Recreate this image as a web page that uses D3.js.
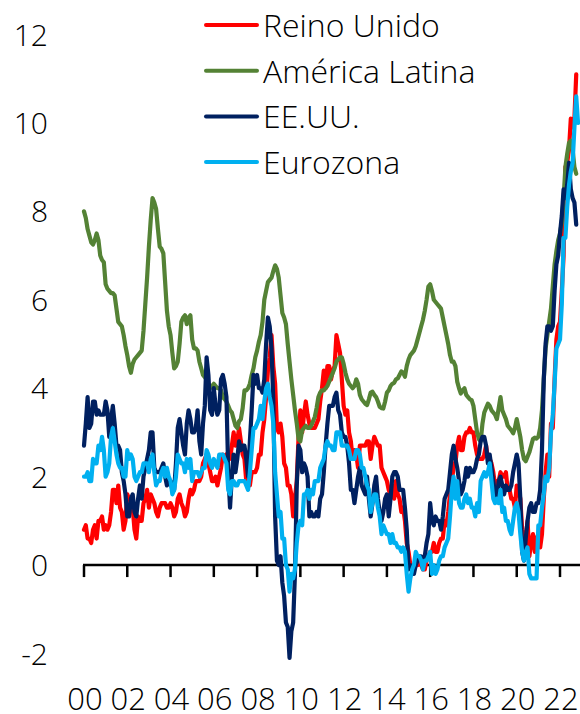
<!DOCTYPE html>
<html>
<head>
<meta charset="utf-8">
<script src="https://cdn.jsdelivr.net/npm/d3@7"></script>
<style>
  body { margin: 0; background: #fff; }
  text { font-family: "Open Sans", sans-serif; font-weight: 300; fill: #000; }
</style>
</head>
<body>
<div id="chart"></div>
<script>
// monthly values, Jan 2000 onwards (% y/y)
var reinoUnido = [
  0.8, 0.9, 0.6, 0.6, 0.5, 0.8, 0.9, 0.6, 1.0, 1.0, 1.1, 0.8,
  0.9, 0.8, 0.9, 1.2, 1.7, 1.7, 1.4, 1.8, 1.3, 1.2, 0.8, 1.0,
  1.6, 1.5, 1.5, 1.3, 0.8, 0.6, 1.1, 1.0, 1.0, 1.4, 1.5, 1.7,
  1.3, 1.6, 1.5, 1.4, 1.2, 1.1, 1.3, 1.4, 1.4, 1.4, 1.3, 1.3,
  1.4, 1.3, 1.1, 1.2, 1.5, 1.6, 1.4, 1.3, 1.1, 1.2, 1.5, 1.7,
  1.6, 1.7, 1.9, 1.9, 1.9, 2.0, 2.3, 2.4, 2.5, 2.3, 2.1, 1.9,
  1.9, 2.0, 1.8, 2.0, 2.2, 2.5, 2.4, 2.5, 2.4, 2.4, 2.7, 3.0,
  2.7, 2.8, 3.1, 2.8, 2.5, 2.4, 1.9, 1.8, 1.8, 2.1, 2.1, 2.1,
  2.2, 2.5, 2.5, 3.0, 3.3, 3.8, 4.4, 4.7, 5.2, 4.5, 4.1, 3.1,
  3.0, 3.2, 2.9, 2.3, 2.2, 1.8, 1.8, 1.6, 1.1, 1.5, 1.9, 2.9,
  3.5, 3.0, 3.4, 3.7, 3.4, 3.2, 3.1, 3.1, 3.1, 3.2, 3.3, 3.7,
  4.0, 4.4, 4.0, 4.5, 4.5, 4.2, 4.4, 4.5, 5.2, 5.0, 4.8, 4.2,
  3.6, 3.4, 3.5, 3.0, 2.8, 2.4, 2.6, 2.5, 2.2, 2.7, 2.7, 2.7,
  2.7, 2.8, 2.8, 2.4, 2.7, 2.9, 2.8, 2.7, 2.7, 2.2, 2.1, 2.0,
  1.9, 1.7, 1.6, 1.8, 1.5, 1.9, 1.6, 1.5, 1.2, 1.3, 1.0, 0.5,
  0.3, 0.0, 0.0, -0.1, 0.1, 0.0, 0.1, 0.0, -0.1, -0.1, 0.1, 0.2,
  0.3, 0.3, 0.5, 0.3, 0.3, 0.5, 0.6, 0.6, 1.0, 0.9, 1.2, 1.6,
  1.8, 2.3, 2.3, 2.7, 2.9, 2.6, 2.6, 2.9, 3.0, 3.0, 3.1, 3.0,
  3.0, 2.7, 2.5, 2.4, 2.4, 2.4, 2.5, 2.7, 2.4, 2.4, 2.3, 2.1,
  1.8, 1.9, 1.9, 2.1, 2.0, 2.0, 2.1, 1.7, 1.7, 1.5, 1.5, 1.3,
  1.8, 1.7, 1.5, 0.8, 0.5, 0.6, 1.0, 0.2, 0.5, 0.7, 0.3, 0.6,
  0.7, 0.4, 0.7, 1.5, 2.1, 2.5, 2.0, 3.2, 3.1, 4.2, 5.1, 5.4,
  5.5, 6.2, 7.0, 9.0, 9.1, 9.4, 10.1, 9.9, 10.1, 11.1
];

var americaLatina = [
  8.0, 7.85, 7.6, 7.45, 7.3, 7.25, 7.35, 7.5, 7.35, 7.0, 6.9, 6.85,
  6.35, 6.25, 6.2, 6.15, 6.15, 6.1, 5.8, 5.5, 5.45, 5.4, 5.2, 4.95,
  4.75, 4.5, 4.35, 4.55, 4.65, 4.7, 4.75, 4.8, 4.85, 5.3, 5.9, 6.5,
  7.2, 7.8, 8.3, 8.2, 8.05, 7.6, 7.2, 7.15, 7.05, 6.4, 5.75, 5.4,
  5.2, 4.8, 4.45, 4.5, 4.6, 5.0, 5.5, 5.6, 5.65, 5.45, 5.6, 5.65,
  5.1, 4.9, 4.9, 4.85, 4.6, 4.45, 4.3, 4.25, 4.2, 4.1, 4.0, 4.05,
  4.1, 4.05, 4.0, 4.0, 3.95, 3.8, 3.75, 3.7, 3.6, 3.5, 3.45, 3.3,
  3.15, 3.1, 3.25, 3.3, 3.55, 3.95, 3.95, 4.0, 4.1, 4.3, 4.45, 4.7,
  4.85, 5.05, 5.2, 5.5, 6.0, 6.2, 6.4, 6.45, 6.5, 6.65, 6.78, 6.7,
  6.5, 6.1, 5.7, 5.6, 5.45, 5.0, 4.6, 4.2, 3.85, 3.5, 3.2, 2.85,
  2.8, 3.05, 3.1, 3.15, 3.1, 3.1, 3.15, 3.25, 3.35, 3.55, 3.8, 3.9,
  3.95, 3.95, 4.0, 4.05, 4.15, 4.25, 4.35, 4.45, 4.6, 4.65, 4.7, 4.7,
  4.55, 4.35, 4.2, 4.1, 4.05, 4.0, 4.05, 4.2, 4.1, 3.85, 3.75, 3.7,
  3.65, 3.62, 3.75, 3.9, 3.92, 3.85, 3.8, 3.7, 3.58, 3.55, 3.54, 3.7,
  3.9, 3.95, 4.05, 4.1, 4.12, 4.2, 4.22, 4.3, 4.38, 4.35, 4.26, 4.5,
  4.65, 4.75, 4.8, 4.85, 4.95, 5.1, 5.25, 5.4, 5.55, 5.75, 6.0, 6.3,
  6.35, 6.2, 6.0, 5.95, 5.9, 5.85, 5.8, 5.6, 5.4, 5.2, 5.0, 4.75,
  4.6, 4.6, 4.5, 4.15, 4.0, 3.88, 3.95, 4.0, 3.85, 3.8, 3.75, 3.73,
  3.6, 3.3, 3.0, 2.85, 2.8, 3.2, 3.45, 3.55, 3.65, 3.6, 3.5, 3.45,
  3.4, 3.3, 3.55, 3.8, 3.5, 3.4, 3.3, 3.15, 3.1, 3.05, 2.98, 3.1,
  3.3, 3.1, 2.9, 2.6, 2.4, 2.35, 2.45, 2.55, 2.7, 2.85, 2.88, 2.86,
  2.9, 3.1, 3.5, 4.2, 4.9, 5.2, 5.5, 5.8, 6.3, 6.8, 7.1, 7.35,
  7.5, 7.75, 8.3, 9.0, 9.3, 9.55, 9.6, 9.4, 9.0, 8.85
];

var eeuu = [
  2.7, 3.2, 3.8, 3.1, 3.2, 3.7, 3.7, 3.4, 3.5, 3.4, 3.4, 3.4,
  3.7, 3.5, 2.9, 3.3, 3.6, 3.2, 2.7, 2.7, 2.6, 2.1, 1.9, 1.6,
  1.1, 1.1, 1.5, 1.6, 1.2, 1.1, 1.5, 1.8, 1.5, 2.0, 2.2, 2.4,
  2.6, 3.0, 3.0, 2.2, 2.1, 2.1, 2.1, 2.2, 2.3, 2.0, 1.8, 1.9,
  1.9, 1.7, 1.7, 2.3, 3.1, 3.3, 3.0, 2.7, 2.5, 3.2, 3.5, 3.3,
  3.0, 3.0, 3.1, 3.5, 2.8, 2.5, 3.2, 3.6, 4.7, 4.3, 3.5, 3.4,
  4.0, 3.6, 3.4, 3.5, 4.2, 4.3, 4.1, 3.8, 2.1, 1.3, 2.0, 2.5,
  2.1, 2.4, 2.8, 2.6, 2.7, 2.7, 2.4, 2.0, 2.8, 3.5, 4.3, 4.1,
  4.3, 4.0, 4.0, 3.9, 4.2, 5.0, 5.6, 5.4, 4.9, 3.7, 1.1, 0.1,
  0.0, 0.2, -0.4, -0.7, -1.3, -1.4, -2.1, -1.5, -1.3, -0.2, 1.8, 2.7,
  2.6, 2.1, 2.3, 2.2, 2.0, 1.1, 1.2, 1.1, 1.1, 1.2, 1.1, 1.5,
  1.6, 2.1, 2.7, 3.2, 3.6, 3.6, 3.6, 3.8, 3.9, 3.5, 3.4, 3.0,
  2.9, 2.9, 2.7, 2.3, 1.7, 1.7, 1.4, 1.7, 2.0, 2.2, 1.8, 1.7,
  1.6, 2.0, 1.5, 1.1, 1.4, 1.8, 2.0, 1.5, 1.2, 1.0, 1.2, 1.5,
  1.6, 1.1, 1.5, 2.0, 2.1, 2.1, 2.0, 1.7, 1.7, 1.7, 1.3, 0.8,
  -0.1, 0.0, -0.1, -0.2, 0.0, 0.1, 0.2, 0.2, 0.0, 0.2, 0.5, 0.7,
  1.4, 1.0, 0.9, 1.1, 1.0, 1.0, 0.8, 1.1, 1.5, 1.6, 1.7, 2.1,
  2.5, 2.7, 2.4, 2.2, 1.9, 1.6, 1.7, 1.9, 2.2, 2.0, 2.2, 2.1,
  2.1, 2.2, 2.4, 2.5, 2.8, 2.9, 2.9, 2.7, 2.3, 2.5, 2.2, 1.9,
  1.6, 1.5, 1.9, 2.0, 1.8, 1.6, 1.8, 1.7, 1.7, 1.8, 2.1, 2.3,
  2.5, 2.3, 1.5, 0.3, 0.1, 0.6, 1.0, 1.3, 1.4, 1.2, 1.2, 1.4,
  1.4, 1.7, 2.6, 4.2, 5.0, 5.4, 5.4, 5.3, 5.4, 6.2, 6.8, 7.0,
  7.5, 7.9, 8.5, 8.3, 8.6, 9.1, 8.5, 8.3, 8.2, 7.7
];

var eurozona = [
  2.0, 2.0, 2.1, 1.9, 1.9, 2.4, 2.3, 2.3, 2.7, 2.6, 2.9, 2.6,
  2.0, 2.1, 2.3, 2.9, 3.1, 2.8, 2.5, 2.3, 2.2, 2.2, 2.0, 2.0,
  2.6, 2.4, 2.5, 2.4, 2.0, 1.9, 2.0, 2.1, 2.1, 2.3, 2.3, 2.3,
  2.1, 2.4, 2.5, 2.1, 1.8, 1.9, 1.9, 2.1, 2.2, 2.0, 2.2, 2.0,
  1.9, 1.6, 1.7, 2.0, 2.5, 2.4, 2.3, 2.3, 2.1, 2.4, 2.2, 2.4,
  1.9, 2.1, 2.1, 2.1, 2.0, 2.1, 2.2, 2.2, 2.6, 2.5, 2.3, 2.2,
  2.4, 2.3, 2.2, 2.5, 2.5, 2.5, 2.4, 2.3, 1.7, 1.6, 1.9, 1.9,
  1.8, 1.8, 1.9, 1.9, 1.9, 1.9, 1.8, 1.7, 2.1, 2.6, 3.1, 3.1,
  3.2, 3.3, 3.6, 3.3, 3.7, 4.0, 4.1, 3.8, 3.6, 3.2, 2.1, 1.6,
  1.1, 1.2, 0.6, 0.6, 0.0, -0.1, -0.6, -0.2, -0.3, -0.1, 0.5, 0.9,
  1.0, 0.9, 1.6, 1.6, 1.7, 1.5, 1.7, 1.6, 1.9, 1.9, 1.9, 2.2,
  2.3, 2.4, 2.7, 2.8, 2.7, 2.7, 2.6, 2.6, 3.0, 3.0, 3.0, 2.7,
  2.7, 2.7, 2.7, 2.6, 2.4, 2.4, 2.4, 2.6, 2.6, 2.5, 2.2, 2.2,
  2.0, 1.8, 1.7, 1.2, 1.4, 1.6, 1.6, 1.3, 1.1, 0.7, 0.9, 0.8,
  0.7, 0.7, 0.5, 0.7, 0.5, 0.5, 0.4, 0.4, 0.3, 0.4, 0.3, -0.2,
  -0.6, -0.3, -0.1, 0.0, 0.3, 0.2, 0.2, 0.1, -0.1, 0.1, 0.1, 0.2,
  0.3, -0.2, 0.0, -0.2, -0.1, 0.1, 0.2, 0.2, 0.4, 0.5, 0.6, 1.1,
  1.7, 2.0, 1.5, 1.9, 1.4, 1.3, 1.3, 1.5, 1.6, 1.4, 1.5, 1.3,
  1.3, 1.1, 1.4, 1.2, 1.9, 2.0, 2.1, 2.0, 2.1, 2.3, 1.9, 1.5,
  1.4, 1.5, 1.4, 1.7, 1.2, 1.3, 1.0, 1.0, 0.8, 0.7, 1.0, 1.3,
  1.4, 1.2, 0.7, 0.3, 0.1, 0.3, 0.4, -0.2, -0.3, -0.3, -0.3, -0.3,
  0.9, 0.9, 1.3, 1.6, 2.0, 1.9, 2.2, 3.0, 3.4, 4.1, 4.9, 5.0,
  5.1, 5.9, 7.4, 7.4, 8.1, 8.6, 8.9, 9.1, 9.9, 10.6, 10.0
];

var seriesNames = ["Reino Unido", "América Latina", "EE.UU.", "Eurozona"];
var seriesColors = ["#ff0000", "#548235", "#002060", "#00b0f0"];
var yTicks = [-2, 0, 2, 4, 6, 8, 10, 12];
var xTickLabels = ["00", "02", "04", "06", "08", "10", "12", "14", "16", "18", "20", "22"];

var width = 580, height = 714;

var svg = d3.select("#chart").append("svg")
    .attr("width", width)
    .attr("height", height);

// month index -> x, tick every 24 months
var x = d3.scaleLinear().domain([0, 264]).range([84, 560]);
var y = d3.scaleLinear().domain([-2, 12]).range([653.5, 34.5]);

// y labels (no axis line)
svg.selectAll(".ylab")
    .data(yTicks)
    .join("text")
    .attr("class", "ylab")
    .attr("x", 48)
    .attr("y", d => y(d) + 11)
    .attr("text-anchor", "end")
    .style("font-size", "30px")
    .text(d => d);

// zero line with ticks
svg.append("line")
    .attr("x1", x(0) - 1).attr("x2", width)
    .attr("y1", y(0)).attr("y2", y(0))
    .attr("stroke", "#000")
    .attr("stroke-width", 2.5);

svg.selectAll(".xtick")
    .data(xTickLabels)
    .join("line")
    .attr("class", "xtick")
    .attr("x1", (d, i) => x(i * 24)).attr("x2", (d, i) => x(i * 24))
    .attr("y1", y(0)).attr("y2", y(0) + 12)
    .attr("stroke", "#000")
    .attr("stroke-width", 2.5);

svg.selectAll(".xlab")
    .data(xTickLabels)
    .join("text")
    .attr("class", "xlab")
    .attr("x", (d, i) => x(i * 24) + 1)
    .attr("y", 710)
    .attr("text-anchor", "middle")
    .style("font-size", "31px")
    .text(d => d);

// lines, drawn in legend order
var line = d3.line()
    .x((d, i) => x(i))
    .y(d => y(d));

var allSeries = [reinoUnido, americaLatina, eeuu, eurozona];

svg.selectAll(".serie")
    .data(allSeries)
    .join("path")
    .attr("class", "serie")
    .attr("d", line)
    .attr("fill", "none")
    .attr("stroke", (d, i) => seriesColors[i])
    .attr("stroke-width", 4.2)
    .attr("stroke-linejoin", "round")
    .attr("stroke-linecap", "round");

// legend
var legend = svg.selectAll(".legend")
    .data(seriesNames)
    .join("g")
    .attr("class", "legend")
    .attr("transform", (d, i) => "translate(0," + (25 + i * 45.7) + ")");

legend.append("line")
    .attr("x1", 206).attr("x2", 257)
    .attr("stroke", (d, i) => seriesColors[i])
    .attr("stroke-width", 4)
    .attr("stroke-linecap", "round");

legend.append("text")
    .attr("x", 263)
    .attr("y", 12)
    .style("font-size", "32px")
    .text(d => d);
</script>
</body>
</html>
